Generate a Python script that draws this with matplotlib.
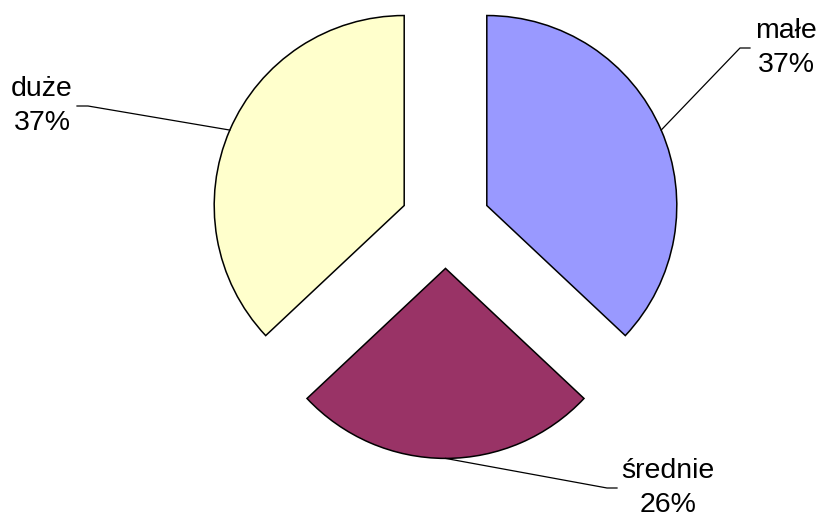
import numpy as np
import matplotlib.pyplot as plt

# Chart data
labels = ["małe", "średnie", "duże"]
shares = [37, 26, 37]
colors = ["#9999FF", "#993366", "#FFFFCC"]

W, H = 824, 523
fig = plt.figure(figsize=(W / 100, H / 100), dpi=100)
ax = fig.add_axes([0, 0, 1, 1])

# explode is an absolute offset here (data units = pixels)
wedges, _ = ax.pie(
    shares,
    colors=colors,
    startangle=90,
    counterclock=False,
    center=(445.5, H - 223.4),
    radius=190,
    explode=[45] * len(shares),
    wedgeprops=dict(edgecolor="black", linewidth=1.1),
)
ax.set_xlim(0, W)
ax.set_ylim(0, H)
ax.set_aspect("auto")
ax.axis("off")

# label anchor: (elbow x, elbow y, end x, text x, text y) in image pixels
label_pos = {
    "małe": (740, 48, 750, 786, 48),
    "średnie": (607, 488, 617, 668, 488),
    "duże": (88, 106, 77, 42, 106),
}

for w, lab, val in zip(wedges, labels, shares):
    mid = np.deg2rad((w.theta1 + w.theta2) / 2)
    sx = w.center[0] + w.r * np.cos(mid)
    sy = w.center[1] + w.r * np.sin(mid)
    ex, ey, endx, tx, ty = label_pos[lab]
    ax.plot([sx, ex, endx], [sy, H - ey, H - ey], color="black", lw=0.9)
    ax.text(tx, H - ty, f"{lab}\n{val}%", ha="center", va="center",
            fontsize=20.5, family="Liberation Sans", linespacing=1.42)

fig.savefig("out.png", dpi=100)
